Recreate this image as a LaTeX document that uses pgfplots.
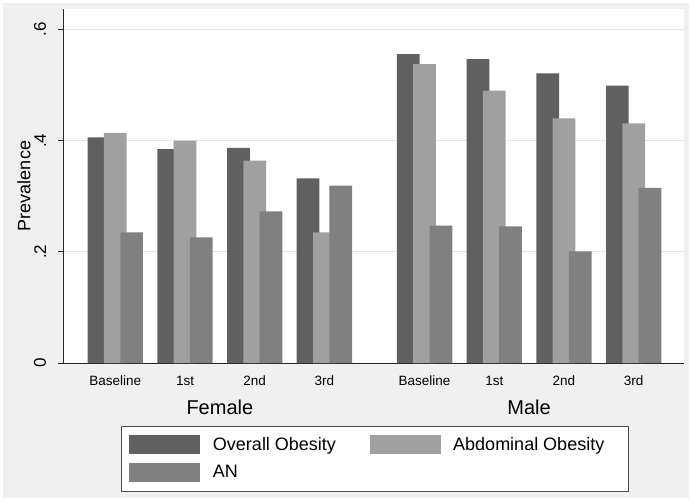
\documentclass[border=0pt]{standalone}
\usepackage{pgfplots}
\pgfplotsset{compat=1.18}
\usepackage{fontspec}
\setmainfont{Liberation Sans}
\definecolor{cOver}{RGB}{96,96,96}
\definecolor{cAbd}{RGB}{160,160,160}
\definecolor{cAN}{RGB}{128,128,128}
\definecolor{cBg}{RGB}{240,240,240}
\definecolor{cGrid}{RGB}{230,230,230}
\pgfplotsset{mylegend/.style={legend image code/.code={\fill[##1] (0pt,-9.15pt) rectangle (71pt,9.15pt);}}}
\begin{document}
\begin{tikzpicture}
\fill[white] (-63pt,-140pt) rectangle (632pt,363pt);
\fill[cBg] (-60pt,-135pt) rectangle (626pt,360pt);
\begin{axis}[
  at={(0pt,0pt)}, anchor=south west,
  scale only axis, width=621pt, height=354pt,
  xmin=-0.7504, xmax=8.159, ymin=0, ymax=0.637,
  axis x line=bottom, axis y line=left,
  axis line style={-, black!85, line width=0.8pt},
  axis background/.style={fill=white},
  clip=false,
  xtick={0,1,2,3,4.437,5.437,6.437,7.437},
  xticklabels={Baseline,1st,2nd,3rd,Baseline,1st,2nd,3rd},
  xtick style={draw=none},
  xticklabel style={font=\fontsize{13.5}{15}\selectfont, anchor=north, inner sep=0pt, yshift=-8pt},
  ytick={0,0.2,0.4,0.6},
  yticklabels={0,.2,.4,.6},
  ytick style={black!85, line width=0.8pt},
  tick align=outside, major tick length=4.7pt,
  yticklabel style={font=\fontsize{17}{19}\selectfont, rotate=90, anchor=south, inner sep=0pt},
  yticklabel shift=12pt,
  ymajorgrids, grid style={cGrid, line width=0.8pt},
  ylabel={Prevalence},
  every axis y label/.style={at={(axis description cs:-0.0628,0.5)}, rotate=90, anchor=center, font=\fontsize{18}{20}\selectfont},
  legend columns=2,
  legend style={at={(axis description cs:0.0945,-0.178)}, anchor=north west,
    draw=black!70, line width=0.6pt, fill=white, outer sep=0pt,
    inner xsep=7.6pt, inner ysep=9.2pt,
    font=\fontsize{18}{20}\selectfont,
    nodes={inner sep=0pt, anchor=west},
    row sep=9.8pt,
    /tikz/every odd column/.append style={column sep=12.7pt},
    /tikz/every even column/.append style={column sep=33.5pt}},
  legend cell align=left,
]
\addplot[ybar, bar width=0.326, bar shift=-0.234, fill=cOver, draw=none, mylegend] coordinates {
 (0,0.406) (1,0.385) (2,0.387) (3,0.332)
 (4.437,0.556) (5.437,0.547) (6.437,0.521) (7.437,0.499)};
\addlegendentry{Overall Obesity}
\addplot[ybar, bar width=0.326, bar shift=0, fill=cAbd, draw=none, mylegend] coordinates {
 (0,0.414) (1,0.400) (2,0.364) (3,0.235)
 (4.437,0.538) (5.437,0.490) (6.437,0.440) (7.437,0.431)};
\addlegendentry{Abdominal Obesity\rule{16pt}{0pt}}
\addplot[ybar, bar width=0.326, bar shift=0.234, fill=cAN, draw=none, mylegend] coordinates {
 (0,0.235) (1,0.226) (2,0.273) (3,0.319)
 (4.437,0.247) (5.437,0.246) (6.437,0.201) (7.437,0.315)};
\addlegendentry{AN}
\node[font=\fontsize{20}{22}\selectfont] at (axis cs:1.5,0) [yshift=-44.7pt] {Female};
\node[font=\fontsize{20}{22}\selectfont] at (axis cs:5.937,0) [yshift=-44.7pt] {Male};
\end{axis}
\end{tikzpicture}
\end{document}
